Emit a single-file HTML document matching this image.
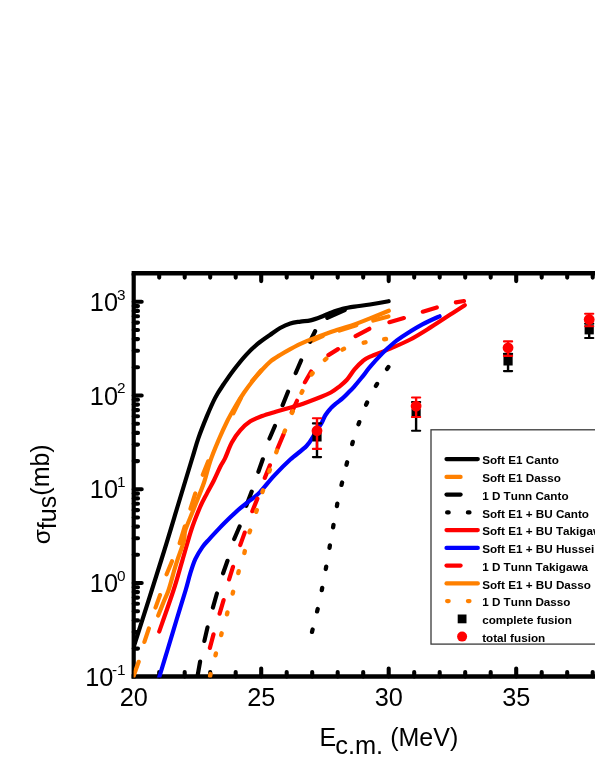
<!DOCTYPE html>
<html><head><meta charset="utf-8"><title>chart</title>
<style>html,body{margin:0;padding:0;background:#fff;}body{width:595px;height:770px;position:relative;overflow:hidden;font-family:"Liberation Sans",sans-serif;}</style>
</head><body>
<svg width="595" height="770" viewBox="0 0 595 770" style="position:absolute;left:0;top:0;font-kerning:none;will-change:transform">
<defs><clipPath id="pc"><rect x="133.6" y="271" width="470" height="406.5"/></clipPath></defs>
<path d="M133.7 273.2 L133.7 678.5" stroke="#000" stroke-width="4.2" fill="none"/>
<path d="M131.6 273.2 L600 273.2 M131.6 676.6 L600 676.6" stroke="#000" stroke-width="4.5" fill="none"/>
<path d="M159.2 273.2 v4.4 M159.2 676.4 v-4.4 M184.7 273.2 v4.4 M184.7 676.4 v-4.4 M210.2 273.2 v4.4 M210.2 676.4 v-4.4 M235.7 273.2 v4.4 M235.7 676.4 v-4.4 M261.2 273.2 v7.9 M261.2 676.4 v-7.9 M286.7 273.2 v4.4 M286.7 676.4 v-4.4 M312.2 273.2 v4.4 M312.2 676.4 v-4.4 M337.7 273.2 v4.4 M337.7 676.4 v-4.4 M363.2 273.2 v4.4 M363.2 676.4 v-4.4 M388.7 273.2 v7.9 M388.7 676.4 v-7.9 M414.2 273.2 v4.4 M414.2 676.4 v-4.4 M439.7 273.2 v4.4 M439.7 676.4 v-4.4 M465.2 273.2 v4.4 M465.2 676.4 v-4.4 M490.7 273.2 v4.4 M490.7 676.4 v-4.4 M516.2 273.2 v7.9 M516.2 676.4 v-7.9 M541.7 273.2 v4.4 M541.7 676.4 v-4.4 M567.2 273.2 v4.4 M567.2 676.4 v-4.4 M592.7 273.2 v4.4 M592.7 676.4 v-4.4 M618.2 273.2 v4.4 M618.2 676.4 v-4.4 M133.7 648.6 h4.3 M133.7 632.1 h4.3 M133.7 620.4 h4.3 M133.7 611.3 h4.3 M133.7 603.8 h4.3 M133.7 597.6 h4.3 M133.7 592.1 h4.3 M133.7 587.3 h4.3 M133.7 583.0 h8 M133.7 554.8 h4.3 M133.7 538.3 h4.3 M133.7 526.6 h4.3 M133.7 517.5 h4.3 M133.7 510.1 h4.3 M133.7 503.8 h4.3 M133.7 498.4 h4.3 M133.7 493.6 h4.3 M133.7 489.3 h8 M133.7 461.1 h4.3 M133.7 444.6 h4.3 M133.7 432.9 h4.3 M133.7 423.8 h4.3 M133.7 416.3 h4.3 M133.7 410.1 h4.3 M133.7 404.6 h4.3 M133.7 399.8 h4.3 M133.7 395.5 h8 M133.7 367.3 h4.3 M133.7 350.8 h4.3 M133.7 339.1 h4.3 M133.7 330.0 h4.3 M133.7 322.6 h4.3 M133.7 316.3 h4.3 M133.7 310.9 h4.3 M133.7 306.1 h4.3 M133.7 301.8 h8" stroke="#000" stroke-width="4.1" stroke-linecap="round" fill="none"/>
<g clip-path="url(#pc)" fill="none" stroke-linecap="round" stroke-linejoin="round">
<path d="M133.5 647.7 C138.1 633.1 153.7 584.5 161.3 560.0 C169.0 535.5 174.3 517.2 179.4 500.5 C184.5 483.8 188.5 470.4 191.7 460.0 C194.9 449.6 195.9 445.4 198.4 438.1 C200.9 430.8 204.1 422.9 206.9 416.1 C209.7 409.4 212.5 403.0 215.3 397.6 C218.1 392.2 220.7 388.6 223.8 384.0 C226.9 379.4 230.2 374.5 233.9 369.7 C237.6 364.9 241.8 359.6 245.7 355.3 C249.6 351.0 253.6 347.3 257.6 343.9 C261.7 340.5 266.2 337.5 270.0 334.9 C273.8 332.2 276.7 329.9 280.1 328.0 C283.5 326.1 286.9 324.5 290.3 323.4 C293.7 322.3 297.0 322.1 300.4 321.6 C303.8 321.1 307.1 321.2 310.5 320.4 C313.9 319.6 317.3 318.3 320.7 317.0 C324.1 315.7 327.1 314.2 330.8 312.8 C334.5 311.4 338.7 309.8 342.6 308.8 C346.6 307.8 349.9 307.3 354.5 306.6 C359.1 305.9 364.3 305.4 370.0 304.5 C375.7 303.6 385.5 301.8 388.6 301.2" stroke="#000" stroke-width="4.2" />
<path d="M133.3 676.7 L138.7 661.8 M144.4 641.9 L148.9 628.4 M155.5 607.6 L160.0 595.1 M166.6 574.3 L172.0 561.3 M179.7 543.2 L184.8 526.3 M190.5 508.7 L195.3 493.4 M202.8 474.8 L208.2 461.3 M233.3 413.2 L241.0 397.8 M252.0 381.2 L261.1 370.4 M310.9 341.3 L322.7 336.1 M339.5 330.6 L356.3 325.3 M373.3 320.6 L388.4 316.4" stroke="#ff8000" stroke-width="4.2" stroke-linecap="round" fill="none"/>
<path d="M197.7 675.2 L200.1 661.6 M204.4 640.9 L207.5 627.4 M212.9 607.6 L216.9 593.5 M223.1 573.3 L227.5 560.8 M234.2 539.0 L239.6 526.5 M246.3 505.8 L251.7 491.6 M258.4 471.8 L262.8 459.3 M269.5 438.5 L274.9 426.0 M282.6 405.2 L288.0 391.7 M295.7 373.0 L301.1 360.5 M309.9 341.7 L315.1 331.2 M327.3 317.9 L344.7 310.0" stroke="#000" stroke-width="4.2" stroke-linecap="round" fill="none"/>
<path d="M312.0 631.9 L312.6 629.5 M317.1 611.4 L317.7 609.0 M321.8 590.2 L322.2 587.8 M325.8 569.0 L326.2 566.6 M329.5 547.8 L329.9 545.4 M333.1 527.3 L333.5 524.9 M336.9 506.1 L337.3 503.7 M341.5 484.9 L342.1 482.5 M346.5 464.7 L347.1 462.3 M352.2 444.1 L352.8 441.9 M358.5 424.3 L359.3 422.1 M366.1 404.7 L367.1 402.5 M375.9 385.9 L377.1 383.9 M387.0 368.9 L388.4 366.9" stroke="#000" stroke-width="4.3" stroke-linecap="round" fill="none"/>
<path d="M159.2 631.6 C161.6 624.7 169.7 601.9 173.6 590.0 C177.5 578.1 179.4 570.3 182.4 560.3 C185.4 550.3 188.4 538.9 191.3 530.0 C194.2 521.1 197.4 513.4 200.0 507.2 C202.6 501.1 204.8 497.6 207.1 493.1 C209.4 488.6 211.9 484.5 214.1 480.0 C216.3 475.5 218.7 469.9 220.5 466.3 C222.3 462.7 223.1 462.2 225.0 458.3 C226.9 454.4 229.3 447.2 231.8 442.6 C234.3 438.0 237.1 433.9 240.2 430.4 C243.3 426.8 246.6 423.7 250.3 421.3 C254.0 418.9 258.0 417.6 262.2 416.0 C266.4 414.4 270.6 413.3 275.7 411.8 C280.8 410.3 287.9 408.3 292.6 406.9 C297.3 405.5 299.1 405.0 303.8 403.4 C308.5 401.8 316.2 398.8 320.7 397.0 C325.2 395.2 327.8 394.1 330.8 392.5 C333.8 390.9 335.9 389.3 338.5 387.2 C341.1 385.1 344.0 383.0 346.7 380.0 C349.4 377.0 351.8 372.6 354.5 369.4 C357.2 366.2 360.3 363.1 362.9 361.0 C365.5 358.9 365.4 358.8 370.0 356.7 C374.6 354.6 383.5 351.5 390.2 348.6 C396.9 345.7 403.6 343.0 410.3 339.5 C417.0 336.0 423.8 331.6 430.5 327.4 C437.2 323.2 445.0 318.0 450.7 314.3 C456.4 310.6 462.4 306.7 464.8 305.2" stroke="#ff0000" stroke-width="4.2" />
<path d="M157.2 684.0 C157.5 682.8 157.6 682.7 159.3 677.0 C161.0 671.3 164.6 659.5 167.5 650.0 C170.4 640.5 173.5 630.0 176.5 620.0 C179.5 610.0 183.4 597.8 185.7 590.0 C188.0 582.2 188.7 578.5 190.3 573.4 C191.9 568.3 193.3 563.6 195.3 559.2 C197.3 554.8 200.1 550.4 202.4 547.1 C204.7 543.8 206.1 542.6 209.1 539.3 C212.1 536.0 216.7 531.1 220.2 527.4 C223.7 523.7 227.0 520.5 230.3 517.3 C233.7 514.1 237.0 511.0 240.3 508.2 C243.7 505.4 247.1 502.9 250.4 500.2 C253.7 497.5 256.0 496.2 260.0 492.1 C264.0 488.0 269.1 481.0 274.2 475.6 C279.2 470.2 284.9 464.4 290.3 459.5 C295.7 454.6 302.5 450.2 306.5 446.0 C310.5 441.8 312.5 437.3 314.5 434.3 C316.5 431.3 317.1 430.0 318.3 428.0 C319.6 426.0 320.8 424.4 322.0 422.2 C323.2 420.0 324.1 417.2 325.5 415.0 C326.9 412.8 328.6 410.6 330.4 408.7 C332.1 406.8 334.0 405.2 336.0 403.5 C338.0 401.8 340.2 400.4 342.2 398.6 C344.2 396.9 346.0 395.0 348.0 393.0 C350.0 391.0 351.5 389.6 354.0 386.8 C356.5 384.0 360.2 379.4 362.9 376.1 C365.6 372.8 366.8 370.6 370.0 366.9 C373.2 363.1 378.1 357.7 382.1 353.6 C386.1 349.5 390.2 345.8 394.2 342.5 C398.2 339.2 401.6 337.0 406.3 334.0 C411.0 331.0 416.8 327.3 422.4 324.4 C427.9 321.4 436.7 317.6 439.6 316.3" stroke="#0000ff" stroke-width="4.2" />
<path d="M209.9 647.9 L213.5 634.4 M219.6 613.7 L223.6 600.1 M229.1 579.4 L233.0 566.8 M240.2 545.1 L244.7 532.6 M252.3 511.2 L257.4 498.6 M264.8 477.9 L269.9 465.3 M277.5 448.6 L283.6 434.1 M291.7 412.3 L297.0 400.8 M304.9 382.2 L311.1 371.5 M328.4 355.1 L338.0 349.1 M355.6 336.1 L369.3 328.8 M389.4 322.2 L403.9 318.1 M422.8 311.7 L436.8 307.4 M455.9 302.4 L464.0 301.0" stroke="#ff0000" stroke-width="4.2" stroke-linecap="round" fill="none"/>
<path d="M158.2 615.5 C159.1 613.3 161.7 606.8 163.4 602.5 C165.1 598.2 166.8 595.4 168.6 590.0 C170.4 584.6 172.9 575.0 174.3 570.0 C175.8 565.0 175.7 565.1 177.3 560.3 C178.9 555.5 182.5 546.4 183.8 541.4 C185.2 536.4 183.7 535.6 185.4 530.0 C187.2 524.4 191.2 515.6 194.3 507.6 C197.4 499.6 201.4 490.0 204.1 482.2 C206.8 474.4 207.9 468.1 210.3 461.0 C212.7 453.9 215.9 446.4 218.7 439.8 C221.5 433.2 224.4 426.8 227.2 421.2 C230.0 415.6 232.8 410.8 235.6 406.0 C238.4 401.2 241.0 397.0 244.1 392.5 C247.2 388.0 251.2 382.8 254.2 379.0 C257.2 375.2 259.4 372.9 262.0 370.0 C264.6 367.1 267.0 364.3 270.0 361.8 C273.0 359.3 276.7 357.1 280.1 355.0 C283.5 352.9 286.4 351.2 290.3 349.1 C294.2 347.0 298.7 344.6 303.8 342.4 C308.9 340.1 315.1 337.7 320.7 335.6 C326.3 333.5 332.0 331.6 337.6 329.7 C343.2 327.8 349.1 326.3 354.5 324.4 C359.9 322.5 364.3 320.7 370.0 318.4 C375.7 316.1 385.7 312.0 388.8 310.7" stroke="#ff8000" stroke-width="4.2" />
<path d="M210.1 675.9 L210.5 674.1 M215.5 655.3 L215.9 653.5 M221.2 635.1 L221.6 633.3 M227.0 614.3 L227.4 612.5 M232.7 593.6 L233.1 591.8 M238.3 573.0 L238.7 571.2 M244.4 552.9 L244.8 551.1 M249.5 532.3 L250.1 530.5 M256.2 511.8 L256.8 510.0 M262.4 492.1 L263.0 490.3 M269.3 471.4 L269.9 469.8 M276.3 452.2 L276.9 450.6 M284.4 432.1 L285.0 430.5 M292.0 412.9 L292.8 411.3 M301.6 392.7 L302.4 391.1 M311.6 374.5 L312.6 373.1 M324.9 359.9 L326.3 358.7 M342.4 349.6 L344.0 348.8 M363.7 342.7 L365.5 342.3 M384.2 339.2 L386.0 339.0" stroke="#ff8000" stroke-width="4.4" stroke-linecap="round" fill="none"/>
</g>
<path d="M317.00 423.4 V457.1" stroke="#000" stroke-width="2.4" fill="none"/><path d="M312.90 423.4 h8.2 M312.90 457.1 h8.2" stroke="#000" stroke-width="2.1" stroke-linecap="round" fill="none"/><rect x="312.40" y="432.30" width="9.2" height="9.2" fill="#000"/>
<path d="M416.10 402.1 V430.7" stroke="#000" stroke-width="2.4" fill="none"/><path d="M412.00 402.1 h8.2 M412.00 430.7 h8.2" stroke="#000" stroke-width="2.1" stroke-linecap="round" fill="none"/><rect x="411.50" y="408.70" width="9.2" height="9.2" fill="#000"/>
<path d="M508.05 353.9 V371.1" stroke="#000" stroke-width="2.4" fill="none"/><path d="M503.95 353.9 h8.2 M503.95 371.1 h8.2" stroke="#000" stroke-width="2.1" stroke-linecap="round" fill="none"/><rect x="503.45" y="356.30" width="9.2" height="9.2" fill="#000"/>
<path d="M589.20 323.7 V338.0" stroke="#000" stroke-width="2.4" fill="none"/><path d="M585.10 323.7 h8.2 M585.10 338.0 h8.2" stroke="#000" stroke-width="2.1" stroke-linecap="round" fill="none"/><rect x="584.60" y="325.20" width="9.2" height="9.2" fill="#000"/>
<path d="M317.00 418.2 V448.9" stroke="#ff0000" stroke-width="2.4" fill="none"/><path d="M312.90 418.2 h8.2 M312.90 448.9 h8.2" stroke="#ff0000" stroke-width="2.1" stroke-linecap="round" fill="none"/><circle cx="317.00" cy="430.7" r="5.4" fill="#ff0000"/>
<path d="M416.10 397.5 V417.0" stroke="#ff0000" stroke-width="2.4" fill="none"/><path d="M412.00 397.5 h8.2 M412.00 417.0 h8.2" stroke="#ff0000" stroke-width="2.1" stroke-linecap="round" fill="none"/><circle cx="416.10" cy="406.1" r="5.4" fill="#ff0000"/>
<path d="M508.05 341.4 V355.9" stroke="#ff0000" stroke-width="2.4" fill="none"/><path d="M503.95 341.4 h8.2 M503.95 355.9 h8.2" stroke="#ff0000" stroke-width="2.1" stroke-linecap="round" fill="none"/><circle cx="508.05" cy="347.8" r="5.4" fill="#ff0000"/>
<path d="M589.20 313.8 V326.3" stroke="#ff0000" stroke-width="2.4" fill="none"/><path d="M585.10 313.8 h8.2 M585.10 326.3 h8.2" stroke="#ff0000" stroke-width="2.1" stroke-linecap="round" fill="none"/><circle cx="589.20" cy="319.5" r="5.4" fill="#ff0000"/>
<rect x="431.0" y="429.8" width="200" height="214.3" fill="#fff" stroke="#3a3a3a" stroke-width="1.3"/>
<g fill="none" stroke-linecap="round" stroke-width="4.2">
<path d="M446.5 459.1 H477.8" stroke="#000"/>
<path d="M446.5 476.9 H460.6" stroke="#ff8000"/>
<path d="M446.5 494.6 H460.6" stroke="#000"/>
<path d="M447.1 512.4 h1.6 M467.9 512.4 h1.6" stroke="#000"/>
<path d="M446.5 530.1 H477.8" stroke="#ff0000"/>
<path d="M446.5 547.9 H477.8" stroke="#0000ff"/>
<path d="M446.5 565.6 H460.6" stroke="#ff0000"/>
<path d="M446.5 583.4 H477.8" stroke="#ff8000"/>
<path d="M447.1 601.1 h1.6 M467.9 601.1 h1.6" stroke="#ff8000"/>
</g>
<rect x="457.7" y="614.5" width="8.8" height="8.8" fill="#000"/>
<circle cx="462.1" cy="636.6" r="5.0" fill="#ff0000"/>
<g font-family="Liberation Sans, sans-serif" font-weight="bold" font-size="11.7px" fill="#000">
<text x="482.2" y="464.3">Soft E1 Canto</text>
<text x="482.2" y="482.1">Soft E1 Dasso</text>
<text x="482.2" y="499.8">1 D Tunn Canto</text>
<text x="482.2" y="517.6">Soft E1 + BU Canto</text>
<text x="482.2" y="535.3">Soft E1 + BU Takigawa</text>
<text x="482.2" y="553.1">Soft E1 + BU Hussein</text>
<text x="482.2" y="570.8">1 D Tunn Takigawa</text>
<text x="482.2" y="588.6">Soft E1 + BU Dasso</text>
<text x="482.2" y="606.3">1 D Tunn Dasso</text>
<text x="482.2" y="624.1">complete fusion</text>
<text x="482.2" y="641.8">total fusion</text>
</g>
<g font-family="Liberation Sans, sans-serif" font-size="25.3px" fill="#000">
<text x="133.7" y="706.0" text-anchor="middle">20</text>
<text x="261.2" y="706.0" text-anchor="middle">25</text>
<text x="388.7" y="706.0" text-anchor="middle">30</text>
<text x="516.2" y="706.0" text-anchor="middle">35</text>
<text x="118.0" y="310.9" text-anchor="end">10</text>
<text x="125.5" y="299.6" text-anchor="end" font-size="15.3px">3</text>
<text x="118.0" y="404.6" text-anchor="end">10</text>
<text x="125.5" y="393.3" text-anchor="end" font-size="15.3px">2</text>
<text x="118.0" y="498.4" text-anchor="end">10</text>
<text x="125.5" y="487.1" text-anchor="end" font-size="15.3px">1</text>
<text x="118.0" y="592.1" text-anchor="end">10</text>
<text x="125.5" y="580.9" text-anchor="end" font-size="15.3px">0</text>
<text x="113.4" y="685.9" text-anchor="end">10</text>
<text x="125.5" y="674.6" text-anchor="end" font-size="15.3px">-1</text>
<text x="319.6" y="746.0" font-size="25px">E</text>
<text x="335.2" y="753.8" font-size="25.4px">c.m.</text>
<text x="390.2" y="746.0" font-size="25px">(MeV)</text>
<g transform="translate(49.0,544.2) rotate(-90)"><text x="0" y="1.3" font-size="24.6px">σ</text><text x="15.0" y="7.2" font-size="25px">fus</text><text x="48.5" y="0" font-size="25px">(mb)</text></g>
</g>
</svg>
</body></html>
